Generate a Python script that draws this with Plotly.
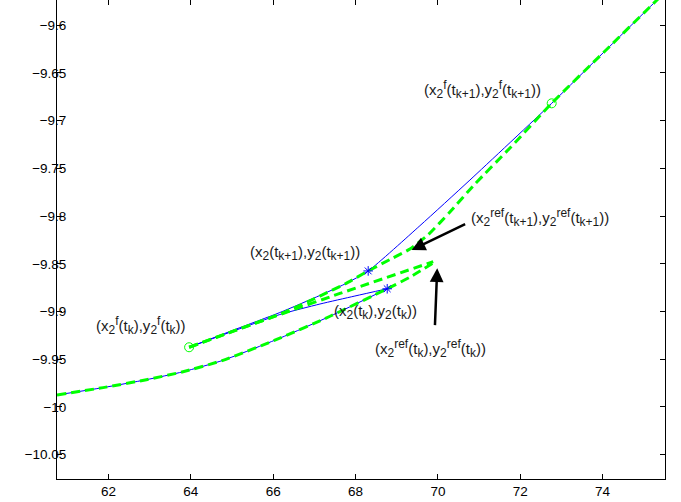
import plotly.graph_objects as go

# ---- data ----
# lower trajectory (shared by actual (blue) and reference (green) up to x2(tk))
low_x = [60.75, 61.87, 62.92, 63.81, 64.78, 66.16, 67.38, 68.769]
low_y = [-9.9875, -9.9798, -9.9715, -9.9632, -9.9512, -9.9280, -9.9050, -9.8762]
# green reference continuation past x2(tk)
low_ref_ext_x = [69.32, 69.97]
low_ref_ext_y = [-9.8640, -9.8470]

# blue: from x2(tk) back to x2f(tk)
b2_x = [63.958, 65.072, 66.162, 67.134, 67.984, 68.769]
b2_y = [-9.9375, -9.9199, -9.9032, -9.8922, -9.8838, -9.8762]

# blue: from x2f(tk) through x2(tk+1) onwards
b3_x = [63.958, 65.072, 66.162, 67.134, 67.742, 68.307, 69.563, 70.778, 72.763, 74.034, 75.321, 75.589]
b3_y = [-9.9375, -9.9189, -9.9011, -9.8832, -9.8712, -9.8575, -9.8101, -9.7622, -9.6818, -9.6280, -9.5735, -9.5620]

# green: straight reference from x2f(tk) to x2ref(tk)
g2_x = [63.958, 66.235, 67.620, 69.886]
g2_y = [-9.9375, -9.9021, -9.8811, -9.8478]

# green: reference from x2f(tk) through x2(tk+1), x2ref(tk+1), x2f(tk+1)
g3_x = [63.958, 65.072, 66.235, 67.134, 67.742, 68.307, 68.907, 69.320, 69.758, 70.292,
        70.899, 71.750, 72.763, 74.034, 75.321, 75.589]
g3_y = [-9.9375, -9.9199, -9.9016, -9.8838, -9.8712, -9.8575, -9.8439, -9.8345, -9.8198, -9.7957,
        -9.7664, -9.7286, -9.6818, -9.6280, -9.5735, -9.5620]

# markers
star_x = [68.307, 68.769]
star_y = [-9.8575, -9.8762]
circ_x = [63.958, 72.763]
circ_y = [-9.9375, -9.6818]

xtick_vals = [62, 64, 66, 68, 70, 72, 74]
xtick_text = ["62", "64", "66", "68", "70", "72", "74"]
ytick_vals = [-10.05, -10.0, -9.95, -9.9, -9.85, -9.8, -9.75, -9.7, -9.65, -9.6]
ytick_text = ["\u221210.05", "\u221210", "\u22129.95", "\u22129.9", "\u22129.85",
              "\u22129.8", "\u22129.75", "\u22129.7", "\u22129.65", "\u22129.6"]

BLUE = "#0000ff"
GREEN = "#00ff00"
DASH = "9px,5px"
FONT = "Liberation Sans, Arial, sans-serif"

fig = go.Figure()
# blue actual trajectories
for xs, ys in [(low_x, low_y), (b2_x, b2_y), (b3_x, b3_y)]:
    fig.add_trace(go.Scatter(x=xs, y=ys, mode="lines",
                             line=dict(color=BLUE, width=1, shape="spline", smoothing=0.6),
                             showlegend=False, hoverinfo="skip"))
# green reference trajectories
for xs, ys in [(low_x + low_ref_ext_x, low_y + low_ref_ext_y), (g2_x, g2_y), (g3_x, g3_y)]:
    fig.add_trace(go.Scatter(x=xs, y=ys, mode="lines",
                             line=dict(color=GREEN, width=3, dash=DASH, shape="spline", smoothing=0.6),
                             showlegend=False, hoverinfo="skip"))
fig.add_trace(go.Scatter(x=circ_x, y=circ_y, mode="markers",
                         marker=dict(symbol="circle-open", size=9, color=GREEN,
                                     line=dict(color=GREEN, width=1)),
                         showlegend=False, hoverinfo="skip"))
fig.add_trace(go.Scatter(x=star_x, y=star_y, mode="markers",
                         marker=dict(symbol="asterisk-open", size=8, color=BLUE,
                                     line=dict(color=BLUE, width=1)),
                         showlegend=False, hoverinfo="skip"))

S = '<span style="font-size:12px">'
E = '</span>'
def sub(t):
    return "<sub>" + S + t + E + "</sub>"
def sup(t):
    return "<sup>" + S + t + E + "</sup>"

labels = [
    (71.094, -9.6668, "(x" + sub("2") + sup("f") + "(t" + sub("k+1") + "),y" + sub("2") + sup("f") + "(t" + sub("k+1") + "))"),
    (72.478, -9.8020, "(x" + sub("2") + sup("ref") + "(t" + sub("k+1") + "),y" + sub("2") + sup("ref") + "(t" + sub("k+1") + "))"),
    (66.769, -9.8387, "(x" + sub("2") + "(t" + sub("k+1") + "),y" + sub("2") + "(t" + sub("k+1") + "))"),
    (68.494, -9.9005, "(x" + sub("2") + "(t" + sub("k") + "),y" + sub("2") + "(t" + sub("k") + "))"),
    (62.785, -9.9152, "(x" + sub("2") + sup("f") + "(t" + sub("k") + "),y" + sub("2") + sup("f") + "(t" + sub("k") + "))"),
    (69.830, -9.9383, "(x" + sub("2") + sup("ref") + "(t" + sub("k") + "),y" + sub("2") + sup("ref") + "(t" + sub("k") + "))"),
]
annotations = []
for lx, ly, txt in labels:
    annotations.append(dict(x=lx, y=ly, xref="x", yref="y", text=txt, showarrow=False,
                            xanchor="center", yanchor="middle",
                            font=dict(family=FONT, size=15, color="#1a1a1a")))
# arrows
for tipx, tipy, tailx, taily in [(69.362, -9.8355, 70.698, -9.8076), (69.983, -9.8547, 69.927, -9.9159)]:
    annotations.append(dict(x=tipx, y=tipy, ax=tailx, ay=taily, xref="x", yref="y", axref="x", ayref="y",
                            text="", showarrow=True, arrowhead=2, arrowsize=1.1, arrowwidth=2.5,
                            arrowcolor="black"))

axis_common = dict(showgrid=False, zeroline=False, showline=True, linecolor="black", linewidth=1,
                   ticks="inside", ticklen=5, tickwidth=1, tickcolor="black", mirror="ticks",
                   tickfont=dict(family=FONT, size=13.5, color="black"))
fig.update_layout(
    width=681, height=502,
    margin=dict(l=57, r=16, t=0, b=23),
    plot_bgcolor="white", paper_bgcolor="white",
    xaxis=dict(range=[60.75, 75.515], tickvals=xtick_vals, ticktext=xtick_text, **axis_common),
    yaxis=dict(range=[-10.0756, -9.5735], tickvals=ytick_vals, ticktext=ytick_text,
               ticklabelstandoff=-13, **axis_common),
    annotations=annotations,
)
fig.write_html("out.html", config={"displayModeBar": False},
               post_script="document.body.style.margin='0px';document.body.style.padding='0px';")
